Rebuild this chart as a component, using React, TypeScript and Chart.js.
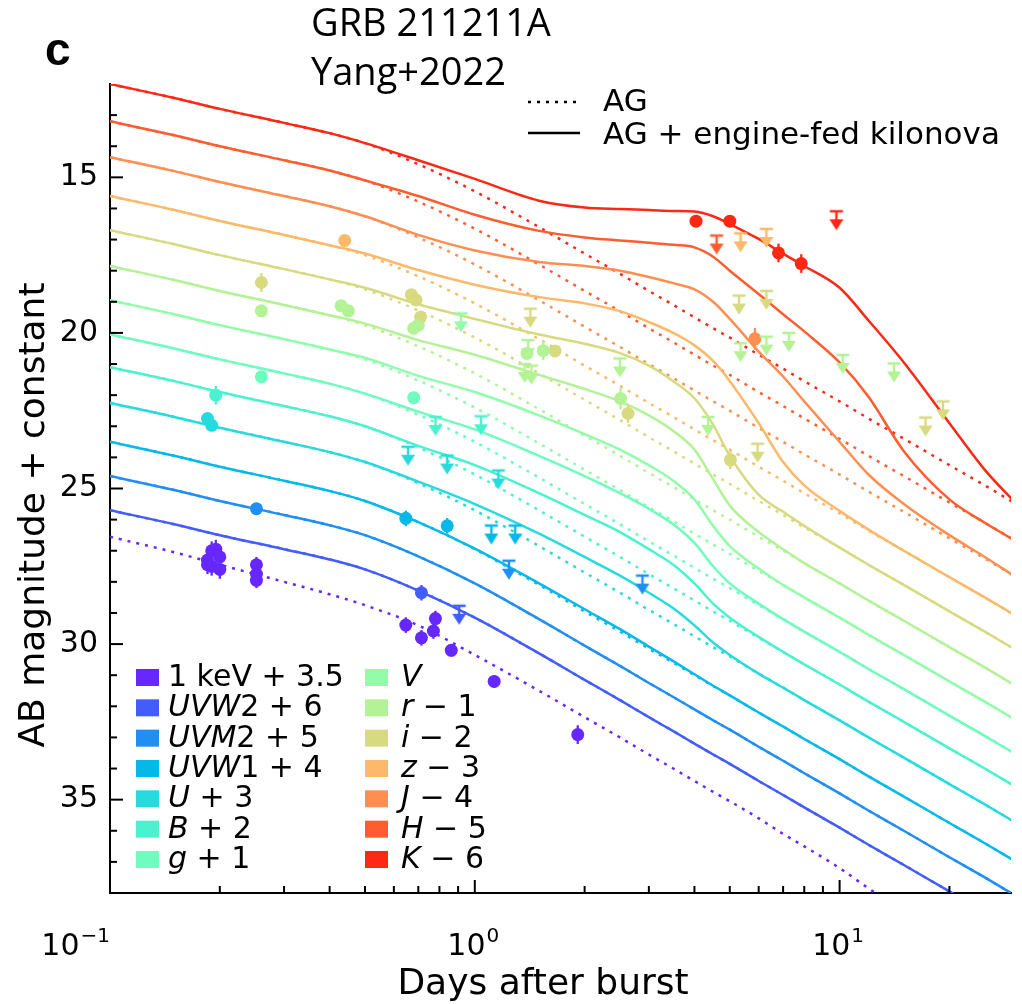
import React, { useEffect, useRef } from 'react';
import { Chart, registerables } from 'chart.js';
Chart.register(...registerables);

// ---------- data ----------
const TIME = [0.1, 0.15, 0.2, 0.3, 0.4, 0.5, 0.7, 1, 1.5, 2, 2.5, 3, 3.5, 4, 4.5, 5, 6, 7, 8, 10, 12, 15, 20, 25, 30];

// afterglow-only model (dotted)
const AG_XRAY = [26.55, 27.05, 27.45, 28.0, 28.4, 28.75, 29.4, 30.35, 31.5, 32.35, 33.0, 33.55, 34.0, 34.4, 34.75, 35.05, 35.6, 36.1, 36.5, 37.2, 37.85, 38.6, 39.5, 40.2, 40.8];
const AG_UVW2 = [25.7, 26.15, 26.5, 26.95, 27.28, 27.6, 28.28, 29.15, 30.3, 31.15, 31.8, 32.35, 32.8, 33.2, 33.55, 33.85, 34.4, 34.85, 35.25, 35.9, 36.45, 37.1, 37.95, 38.6, 39.15];
const AG_UVM2 = [24.6, 25.05, 25.4, 25.85, 26.18, 26.5, 27.18, 28.05, 29.2, 30.05, 30.7, 31.25, 31.7, 32.1, 32.45, 32.75, 33.3, 33.75, 34.15, 34.8, 35.35, 36.0, 36.85, 37.5, 38.05];
const AG_UVW1 = [23.5, 23.95, 24.3, 24.75, 25.08, 25.4, 26.08, 26.95, 28.1, 28.95, 29.6, 30.15, 30.6, 31.0, 31.35, 31.65, 32.2, 32.65, 33.05, 33.7, 34.25, 34.9, 35.75, 36.4, 36.95];
const AG_U = [22.25, 22.7, 23.05, 23.5, 23.83, 24.15, 24.83, 25.7, 26.85, 27.7, 28.35, 28.9, 29.35, 29.75, 30.1, 30.4, 30.95, 31.4, 31.8, 32.45, 33.0, 33.65, 34.5, 35.15, 35.7];
const AG_B = [21.1, 21.55, 21.9, 22.35, 22.68, 23.0, 23.68, 24.55, 25.7, 26.55, 27.2, 27.75, 28.2, 28.6, 28.95, 29.25, 29.8, 30.25, 30.65, 31.3, 31.85, 32.5, 33.35, 34.0, 34.55];
const AG_G = [20.05, 20.5, 20.85, 21.3, 21.63, 21.95, 22.63, 23.5, 24.65, 25.5, 26.15, 26.7, 27.15, 27.55, 27.9, 28.2, 28.75, 29.2, 29.6, 30.25, 30.8, 31.45, 32.3, 32.95, 33.5];
const AG_V = [18.95, 19.4, 19.75, 20.2, 20.53, 20.85, 21.53, 22.4, 23.55, 24.4, 25.05, 25.6, 26.05, 26.45, 26.8, 27.1, 27.65, 28.1, 28.5, 29.15, 29.7, 30.35, 31.2, 31.85, 32.4];
const AG_R = [17.85, 18.3, 18.65, 19.1, 19.43, 19.75, 20.43, 21.3, 22.45, 23.3, 23.95, 24.5, 24.95, 25.35, 25.7, 26.0, 26.55, 27.0, 27.4, 28.05, 28.6, 29.25, 30.1, 30.75, 31.3];
const AG_I = [16.7, 17.15, 17.5, 17.95, 18.28, 18.6, 19.28, 20.15, 21.3, 22.15, 22.8, 23.35, 23.8, 24.2, 24.55, 24.85, 25.4, 25.85, 26.25, 26.9, 27.45, 28.1, 28.95, 29.6, 30.15];
const AG_Z = [15.6, 16.05, 16.4, 16.85, 17.18, 17.5, 18.18, 19.05, 20.2, 21.05, 21.7, 22.25, 22.7, 23.1, 23.45, 23.75, 24.3, 24.75, 25.15, 25.8, 26.35, 27.0, 27.85, 28.5, 29.05];
const AG_J = [14.35, 14.8, 15.15, 15.6, 15.93, 16.25, 16.93, 17.8, 18.95, 19.8, 20.45, 21.0, 21.45, 21.85, 22.2, 22.5, 23.05, 23.5, 23.9, 24.55, 25.1, 25.75, 26.6, 27.25, 27.8];
const AG_H = [13.2, 13.65, 14.0, 14.45, 14.78, 15.1, 15.78, 16.65, 17.8, 18.65, 19.3, 19.85, 20.3, 20.7, 21.05, 21.35, 21.9, 22.35, 22.75, 23.4, 23.95, 24.6, 25.45, 26.1, 26.65];
const AG_K = [12.0, 12.45, 12.8, 13.25, 13.58, 13.9, 14.58, 15.45, 16.6, 17.45, 18.1, 18.65, 19.1, 19.5, 19.85, 20.15, 20.7, 21.15, 21.55, 22.2, 22.75, 23.4, 24.25, 24.9, 25.45];

// afterglow + engine-fed kilonova (solid)
const KN_UVW2 = [25.7, 26.15, 26.5, 26.95, 27.28, 27.6, 28.28, 29.15, 30.3, 31.15, 31.8, 32.35, 32.8, 33.2, 33.55, 33.85, 34.4, 34.85, 35.25, 35.9, 36.45, 37.1, 37.95, 38.6, 39.15];
const KN_UVM2 = [24.6, 25.05, 25.4, 25.85, 26.18, 26.5, 27.18, 28.05, 29.2, 30.05, 30.7, 31.25, 31.7, 32.1, 32.45, 32.75, 33.3, 33.75, 34.15, 34.8, 35.35, 36.0, 36.85, 37.5, 38.05];
const KN_UVW1 = [23.5, 23.95, 24.3, 24.75, 25.08, 25.4, 26.08, 26.93, 28.05, 28.88, 29.52, 30.08, 30.55, 30.97, 31.34, 31.65, 32.2, 32.65, 33.05, 33.7, 34.25, 34.9, 35.75, 36.4, 36.95];
const KN_U = [22.25, 22.7, 23.05, 23.5, 23.83, 24.15, 24.78, 25.5, 26.45, 27.2, 27.8, 28.35, 28.85, 29.4, 29.95, 30.35, 30.95, 31.4, 31.8, 32.45, 33.0, 33.65, 34.5, 35.15, 35.7];
const KN_B = [21.1, 21.55, 21.9, 22.35, 22.68, 23.0, 23.63, 24.25, 25.15, 25.85, 26.4, 26.95, 27.45, 28.05, 28.7, 29.15, 29.77, 30.25, 30.65, 31.3, 31.85, 32.5, 33.35, 34.0, 34.55];
const KN_G = [20.05, 20.5, 20.85, 21.3, 21.63, 21.95, 22.53, 23.1, 23.95, 24.6, 25.15, 25.65, 26.15, 26.75, 27.5, 28.05, 28.7, 29.2, 29.6, 30.25, 30.8, 31.45, 32.3, 32.95, 33.5];
const KN_V = [18.95, 19.4, 19.75, 20.2, 20.53, 20.8, 21.38, 21.9, 22.65, 23.25, 23.75, 24.25, 24.75, 25.35, 26.2, 26.85, 27.57, 28.1, 28.5, 29.15, 29.7, 30.35, 31.2, 31.85, 32.4];
const KN_R = [17.85, 18.3, 18.65, 19.1, 19.43, 19.7, 20.23, 20.7, 21.35, 21.8, 22.2, 22.65, 23.15, 23.75, 24.7, 25.55, 26.4, 26.95, 27.4, 28.05, 28.6, 29.25, 30.1, 30.75, 31.3];
const KN_I = [16.7, 17.15, 17.5, 17.95, 18.28, 18.55, 19.08, 19.55, 20.05, 20.35, 20.65, 21.05, 21.55, 22.1, 22.95, 23.95, 25.2, 25.75, 26.2, 26.9, 27.45, 28.1, 28.95, 29.6, 30.15];
const KN_Z = [15.6, 16.05, 16.4, 16.85, 17.18, 17.45, 17.98, 18.45, 18.85, 19.05, 19.3, 19.65, 20.0, 20.4, 20.9, 21.55, 22.9, 24.15, 24.9, 25.72, 26.32, 27.0, 27.85, 28.5, 29.05];
const KN_J = [14.35, 14.8, 15.15, 15.6, 15.93, 16.25, 16.85, 17.35, 17.72, 17.85, 18.0, 18.2, 18.4, 18.6, 19.0, 19.55, 20.6, 21.4, 22.2, 23.5, 24.55, 25.5, 26.5, 27.2, 27.8];
const KN_H = [13.2, 13.65, 14.0, 14.45, 14.78, 15.1, 15.6, 16.2, 16.72, 16.93, 17.03, 17.1, 17.17, 17.25, 17.55, 18.0, 18.75, 19.4, 19.95, 20.95, 22.05, 23.8, 25.35, 26.1, 26.65];
const KN_K = [12.0, 12.45, 12.8, 13.25, 13.58, 13.9, 14.45, 15.05, 15.75, 15.97, 16.02, 16.05, 16.08, 16.1, 16.25, 16.5, 16.98, 17.45, 17.85, 18.55, 19.6, 20.95, 22.9, 24.4, 25.4];

// detections: [days, mag, error]
const DET_XRAY = [[0.185, 27.3, 0.3], [0.19, 27.0, 0.3], [0.195, 26.95, 0.3], [0.2, 27.2, 0.3], [0.19, 27.5, 0.3], [0.2, 27.6, 0.3], [0.185, 27.45, 0.3], [0.252, 27.45, 0.25], [0.252, 27.75, 0.25], [0.252, 27.95, 0.25], [0.647, 29.39, 0.25], [0.714, 29.8, 0.25], [0.78, 29.18, 0.25], [0.77, 29.58, 0.25], [0.862, 30.2, 0.2], [1.13, 31.2, 0.2], [1.915, 32.91, 0.3]];
const DET_UVW2 = [[0.714, 28.35, 0.25]];
const DET_UVM2 = [[0.252, 25.65, 0.15]];
const DET_UVW1 = [[0.647, 25.96, 0.25], [0.84, 26.2, 0.25]];
const DET_U = [[0.185, 22.75, 0.15], [0.19, 22.97, 0.15]];
const DET_B = [[0.195, 22.0, 0.3]];
const DET_G = [[0.26, 21.41, 0.15], [0.68, 22.08, 0.15]];
const DET_V: number[][] = [];
const DET_R = [[0.26, 19.29, 0.15], [0.43, 19.13, 0.15], [0.45, 19.29, 0.15], [0.68, 19.85, 0.15], [0.7, 19.75, 0.15], [1.39, 20.66, 0.15], [1.54, 20.57, 0.3], [2.51, 22.11, 0.35]];
const DET_I = [[0.26, 18.38, 0.3], [0.67, 18.77, 0.15], [0.69, 18.94, 0.15], [0.71, 19.49, 0.15], [1.66, 20.58, 0.15], [2.63, 22.59, 0.3], [5.02, 24.08, 0.3]];
const DET_Z = [[0.44, 17.03, 0.15]];
const DET_J = [[5.86, 20.19, 0.35]];
const DET_H: number[][] = [];
const DET_K = [[4.04, 16.41, 0.1], [5.0, 16.41, 0.1], [6.8, 17.43, 0.3], [7.85, 17.77, 0.3]];

// upper limits: [days, mag]
const UL_XRAY: number[][] = [];
const UL_UVW2 = [[0.906, 28.77]];
const UL_UVM2 = [[1.24, 27.32], [2.88, 27.8]];
const UL_UVW1 = [[1.11, 26.19], [1.29, 26.19]];
const UL_U = [[0.656, 23.66], [0.84, 23.94], [1.16, 24.42]];
const UL_B = [[0.78, 22.7], [1.04, 22.68]];
const UL_G: number[][] = [];
const UL_V = [[0.916, 19.37]];
const UL_R = [[1.4, 20.23], [1.37, 21.0], [1.43, 21.05], [2.5, 20.82], [4.36, 22.7], [5.35, 20.33], [6.3, 20.12], [7.26, 20.0], [10.2, 20.71], [14.1, 20.98]];
const UL_I = [[1.42, 19.22], [5.3, 18.8], [6.3, 18.65], [5.96, 23.56], [17.2, 22.72], [19.2, 22.2]];
const UL_Z = [[5.35, 16.8], [6.3, 16.66]];
const UL_J: number[][] = [];
const UL_H = [[4.6, 16.87]];
const UL_K = [[9.8, 16.09]];

const COLORS = ['#6628fe', '#435dfb', '#1f8ff4', '#04b9ea', '#27dade', '#4bf2cf', '#6efdbe', '#91fdab', '#b4f296', '#d8da80', '#fbb969', '#ff8f51', '#ff5d2f', '#ff2814'];

const LEGEND_COL1: [string, boolean][][] = [
  [['1 keV + 3.5', false]],
  [['UVW', true], ['2 + 6', false]],
  [['UVM', true], ['2 + 5', false]],
  [['UVW', true], ['1 + 4', false]],
  [['U', true], [' + 3', false]],
  [['B', true], [' + 2', false]],
  [['g', true], [' + 1', false]],
];
const LEGEND_COL2: [string, boolean][][] = [
  [['V', true]],
  [['r', true], [' \u2212 1', false]],
  [['i', true], [' \u2212 2', false]],
  [['z', true], [' \u2212 3', false]],
  [['J', true], [' \u2212 4', false]],
  [['H', true], [' \u2212 5', false]],
  [['K', true], [' \u2212 6', false]],
];

const X_TICKS = [0.1, 0.2, 0.3, 0.4, 0.5, 0.6, 0.7, 0.8, 0.9, 1, 2, 3, 4, 5, 6, 7, 8, 9, 10, 20];
const X_TICK_LABELS: [number, string][] = [[0.1, '\u22121'], [1, '0'], [10, '1']];
const Y_TICK_LABELS = [15, 20, 25, 30, 35];

const BANDS = [
  { ag: AG_XRAY, kn: null, det: DET_XRAY, ul: UL_XRAY },
  { ag: AG_UVW2, kn: KN_UVW2, det: DET_UVW2, ul: UL_UVW2 },
  { ag: AG_UVM2, kn: KN_UVM2, det: DET_UVM2, ul: UL_UVM2 },
  { ag: AG_UVW1, kn: KN_UVW1, det: DET_UVW1, ul: UL_UVW1 },
  { ag: AG_U, kn: KN_U, det: DET_U, ul: UL_U },
  { ag: AG_B, kn: KN_B, det: DET_B, ul: UL_B },
  { ag: AG_G, kn: KN_G, det: DET_G, ul: UL_G },
  { ag: AG_V, kn: KN_V, det: DET_V, ul: UL_V },
  { ag: AG_R, kn: KN_R, det: DET_R, ul: UL_R },
  { ag: AG_I, kn: KN_I, det: DET_I, ul: UL_I },
  { ag: AG_Z, kn: KN_Z, det: DET_Z, ul: UL_Z },
  { ag: AG_J, kn: KN_J, det: DET_J, ul: UL_J },
  { ag: AG_H, kn: KN_H, det: DET_H, ul: UL_H },
  { ag: AG_K, kn: KN_K, det: DET_K, ul: UL_K },
];

const SANS = '"DejaVu Sans"';

function makeUL(color: string) {
  const c = document.createElement('canvas');
  c.width = 16;
  c.height = 40;
  const g = c.getContext('2d')!;
  g.strokeStyle = color;
  g.fillStyle = color;
  g.lineWidth = 2.4;
  g.beginPath();
  g.moveTo(1.5, 20);
  g.lineTo(14.5, 20);
  g.moveTo(8, 20);
  g.lineTo(8, 30);
  g.stroke();
  g.beginPath();
  g.moveTo(1, 28);
  g.lineTo(15, 28);
  g.lineTo(8, 39);
  g.closePath();
  g.fill();
  return c;
}

function drawRich(ctx: CanvasRenderingContext2D, parts: [string, boolean][], x: number, y: number, size: number) {
  let cx = x;
  for (const [s, it] of parts) {
    ctx.font = `${it ? 'italic ' : ''}${size}px ${SANS}`;
    ctx.fillText(s, cx, y);
    cx += ctx.measureText(s).width;
  }
}

const errorBars = {
  id: 'errorBars',
  afterDatasetsDraw(chart: any) {
    const ctx = chart.ctx;
    const ys = chart.scales.y;
    chart.data.datasets.forEach((ds: any, i: number) => {
      if (!ds.errs) return;
      const meta = chart.getDatasetMeta(i);
      ctx.save();
      ctx.strokeStyle = ds.backgroundColor;
      ctx.lineWidth = 2.3;
      meta.data.forEach((pt: any, j: number) => {
        const v = ds.data[j].y;
        const e = ds.errs[j];
        ctx.beginPath();
        ctx.moveTo(pt.x, ys.getPixelForValue(v - e));
        ctx.lineTo(pt.x, ys.getPixelForValue(v + e));
        ctx.stroke();
      });
      ctx.restore();
    });
  },
};

const decor = {
  id: 'decor',
  afterDraw(chart: any) {
    const ctx: CanvasRenderingContext2D = chart.ctx;
    const xs = chart.scales.x;
    const ys = chart.scales.y;
    const { left, bottom, top } = chart.chartArea;
    ctx.save();
    ctx.strokeStyle = '#000';
    ctx.fillStyle = '#000';
    ctx.lineWidth = 2;
    // inward y ticks
    ys.ticks.forEach((t: any) => {
      const py = ys.getPixelForValue(t.value);
      if (py <= top + 1 || py >= bottom - 1) return;
      const len = Y_TICK_LABELS.includes(t.value) ? 13 : 7;
      ctx.beginPath();
      ctx.moveTo(left, py);
      ctx.lineTo(left + len, py);
      ctx.stroke();
    });
    // inward x ticks
    const majors = X_TICK_LABELS.map((d) => d[0]);
    xs.ticks.forEach((t: any) => {
      const px = xs.getPixelForValue(t.value);
      if (px <= left + 1) return;
      const len = majors.includes(t.value) ? 13 : 7;
      ctx.beginPath();
      ctx.moveTo(px, bottom);
      ctx.lineTo(px, bottom - len);
      ctx.stroke();
    });
    // x tick labels 10^n
    ctx.textBaseline = 'alphabetic';
    ctx.textAlign = 'left';
    X_TICK_LABELS.forEach(([v, exp], k) => {
      const px = xs.getPixelForValue(v);
      ctx.font = `30px ${SANS}`;
      const w1 = ctx.measureText('10').width;
      ctx.font = `20px ${SANS}`;
      const w2 = ctx.measureText(exp).width;
      let x0 = px - (w1 + w2) / 2 - 2;
      if (k === 0) x0 = px - (w1 + w2) - 1;
      ctx.font = `30px ${SANS}`;
      ctx.fillText('10', x0, 955);
      ctx.font = `20px ${SANS}`;
      ctx.fillText(exp, x0 + w1 + 1, 942);
    });
    // axis titles
    ctx.font = `36px ${SANS}`;
    ctx.textAlign = 'center';
    ctx.fillText('Days after burst', 543, 994);
    ctx.save();
    ctx.translate(44, 515);
    ctx.rotate(-Math.PI / 2);
    ctx.fillText('AB magnitude + constant', 0, 0);
    ctx.restore();
    // panel letter and title
    ctx.textAlign = 'left';
    ctx.font = `bold 46px "Liberation Sans"`;
    ctx.fillText('c', 45, 65);
    ctx.font = `38px "Open Sans"`;
    ctx.fillText('GRB 211211A', 311, 36);
    ctx.fillText('Yang+2022', 311, 85);
    // line-style legend
    ctx.lineWidth = 2.5;
    ctx.setLineDash([3, 6]);
    ctx.beginPath();
    ctx.moveTo(528, 102);
    ctx.lineTo(580, 102);
    ctx.stroke();
    ctx.setLineDash([]);
    ctx.beginPath();
    ctx.moveTo(528, 133);
    ctx.lineTo(580, 133);
    ctx.stroke();
    ctx.font = `31px ${SANS}`;
    ctx.fillText('AG', 603, 111);
    ctx.fillText('AG + engine-fed kilonova', 603, 144);
    // band legend
    const rowY = (k: number) => 686 + k * 30.33;
    LEGEND_COL1.forEach((parts, k) => {
      ctx.fillStyle = COLORS[k];
      ctx.fillRect(136, rowY(k) - 17, 23, 17);
      ctx.fillStyle = '#000';
      drawRich(ctx, parts, 168, rowY(k), 30);
    });
    LEGEND_COL2.forEach((parts, k) => {
      ctx.fillStyle = COLORS[k + 7];
      ctx.fillRect(365, rowY(k) - 17, 23, 17);
      ctx.fillStyle = '#000';
      drawRich(ctx, parts, 401, rowY(k), 30);
    });
    ctx.restore();
  },
};

export default function App() {
  const ref = useRef<HTMLCanvasElement>(null);
  useEffect(() => {
    const canvas = ref.current!;
    const datasets: any[] = [];
    BANDS.forEach((b, i) => {
      const color = COLORS[i];
      datasets.push({
        type: 'line',
        data: TIME.map((t, j) => ({ x: t, y: b.ag[j] })),
        borderColor: color,
        borderWidth: 2.5,
        borderDash: [3, 6],
        borderCapStyle: 'butt',
        pointRadius: 0,
        cubicInterpolationMode: 'monotone',
        fill: false,
        order: 3,
      });
      if (b.kn) {
        datasets.push({
          type: 'line',
          data: TIME.map((t, j) => ({ x: t, y: (b.kn as number[])[j] })),
          borderColor: color,
          borderWidth: 2.5,
          pointRadius: 0,
          cubicInterpolationMode: 'monotone',
          fill: false,
          order: 2,
        });
      }
    });
    BANDS.forEach((b, i) => {
      const color = COLORS[i];
      if (b.det.length) {
        datasets.push({
          type: 'scatter',
          data: b.det.map((d) => ({ x: d[0], y: d[1] })),
          errs: b.det.map((d) => d[2]),
          pointStyle: 'circle',
          pointRadius: 6.5,
          backgroundColor: color,
          borderColor: color,
          borderWidth: 0,
          showLine: false,
          order: 1,
        });
      }
      if (b.ul.length) {
        datasets.push({
          type: 'scatter',
          data: b.ul.map((d) => ({ x: d[0], y: d[1] })),
          pointStyle: makeUL(color),
          pointRadius: 10,
          backgroundColor: color,
          borderColor: color,
          showLine: false,
          order: 0,
        });
      }
    });

    const chart = new Chart(canvas, {
      type: 'line',
      data: { datasets },
      options: {
        animation: false,
        responsive: false,
        maintainAspectRatio: false,
        devicePixelRatio: 1,
        events: [],
        layout: { padding: { left: 0, right: 1, top: 84, bottom: 0 } },
        plugins: { legend: { display: false }, tooltip: { enabled: false } },
        scales: {
          x: {
            type: 'logarithmic',
            min: 0.1,
            max: 29.5,
            grid: { display: false, drawTicks: false },
            border: { display: true, color: '#000', width: 2 },
            ticks: { display: false },
            afterBuildTicks: (s: any) => {
              s.ticks = X_TICKS.map((v) => ({ value: v }));
            },
            afterFit: (s: any) => {
              s.height = 111;
            },
          },
          y: {
            type: 'linear',
            reverse: true,
            min: 12,
            max: 38,
            grid: { display: false, drawTicks: false },
            border: { display: true, color: '#000', width: 2 },
            ticks: {
              stepSize: 1,
              maxTicksLimit: 100,
              autoSkip: false,
              padding: 12,
              color: '#000',
              font: { family: 'DejaVu Sans', size: 30 },
              callback: (v: any) => (Y_TICK_LABELS.includes(Number(v)) ? String(v) : ''),
            },
            afterFit: (s: any) => {
              s.width = 110;
            },
          },
        },
      } as any,
      plugins: [errorBars, decor],
    });
    return () => chart.destroy();
  }, []);
  return (
    <div style={{ position: 'absolute', left: 0, top: 0, width: 1022, height: 1004, background: '#fff' }}>
      <canvas ref={ref} width={1022} height={1004} style={{ display: 'block', width: 1022, height: 1004 }} />
    </div>
  );
}
